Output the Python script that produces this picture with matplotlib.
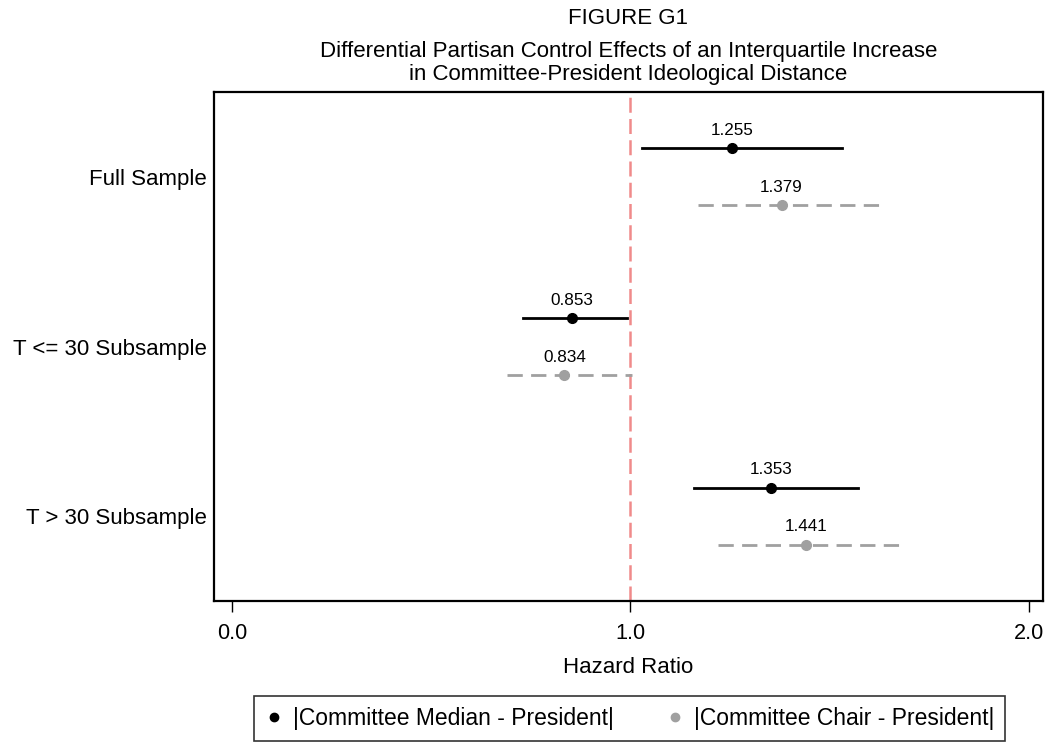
import matplotlib.pyplot as plt
from matplotlib.lines import Line2D

plt.rcParams['font.family'] = ['Liberation Sans', 'DejaVu Sans']

# samples, top to bottom
samples = ["Full Sample", "T <= 30 Subsample", "T > 30 Subsample"]

# hazard ratios with confidence bounds
median_hr = [1.255, 0.853, 1.353]
median_lo = [1.03, 0.73, 1.16]
median_hi = [1.53, 0.99, 1.57]

chair_hr = [1.379, 0.834, 1.441]
chair_lo = [1.17, 0.69, 1.22]
chair_hi = [1.63, 1.005, 1.69]

x_ticks = [0.0, 1.0, 2.0]
x_ticklabels = ["0.0", "1.0", "2.0"]

fig = plt.figure(figsize=(10.47, 7.42), dpi=100)
ax = fig.add_axes([214 / 1047, 1 - 601 / 742, (1043 - 214) / 1047, (601 - 92) / 742])

off = 0.168
black = "#000000"
gray = "#a0a0a0"

# reference line at HR = 1
ax.axvline(1.0, color="#f08a8a", lw=1.8, ls=(0, (6, 2.5)), zorder=1)

for i in range(len(samples)):
    y = i + 1
    ym = y - off
    yc = y + off
    ax.plot([median_lo[i], median_hi[i]], [ym, ym], color=black, lw=2, zorder=2)
    ax.plot(median_hr[i], ym, "o", color=black, ms=7, zorder=3)
    ax.text(median_hr[i], ym - 0.06, f"{median_hr[i]:.3f}", ha="center", va="bottom", fontsize=12.3)

    ax.plot([chair_lo[i], chair_hi[i]], [yc, yc], color=gray, lw=2, ls=(0, (5.5, 3)), zorder=2)
    ax.plot(chair_hr[i], yc, "o", color=gray, ms=7, zorder=3)
    ax.text(chair_hr[i], yc - 0.06, f"{chair_hr[i]:.3f}", ha="center", va="bottom", fontsize=12.3)

ax.set_xlim(-0.045, 2.035)
ax.set_ylim(3.5, 0.5)
ax.set_xticks(x_ticks)
ax.set_xticklabels(x_ticklabels, fontsize=15.6)
ax.set_yticks([1, 2, 3])
ax.set_yticklabels(samples, fontsize=16)
ax.tick_params(axis="y", length=0, pad=5)
ax.tick_params(axis="x", length=8, width=1, pad=8)
for s in ax.spines.values():
    s.set_linewidth(1.6)
ax.set_xlabel("Hazard Ratio", fontsize=16, labelpad=9)

fig.text(0.6, 1 - 24 / 742, "FIGURE G1", ha="center", va="baseline", fontsize=16)
fig.text(0.6, 1 - 57 / 742, "Differential Partisan Control Effects of an Interquartile Increase",
         ha="center", va="baseline", fontsize=16)
fig.text(0.6, 1 - 80 / 742, "in Committee-President Ideological Distance",
         ha="center", va="baseline", fontsize=16)

handles = [
    Line2D([], [], marker="o", color=black, ls="none", ms=6),
    Line2D([], [], marker="o", color=gray, ls="none", ms=6),
]
leg = fig.legend(handles, ["|Committee Median - President|", "|Committee Chair - President|"],
                 loc="center", ncol=2, fontsize=16.5,
                 bbox_to_anchor=(629.5 / 1047, 1 - 718.5 / 742),
                 borderpad=0.5, fancybox=False, frameon=True, handletextpad=0.4,
                 handlelength=0.8, columnspacing=2.3)
leg.get_frame().set_edgecolor("black")
leg.get_frame().set_linewidth(1.2)

fig.savefig("out.png", dpi=100)
